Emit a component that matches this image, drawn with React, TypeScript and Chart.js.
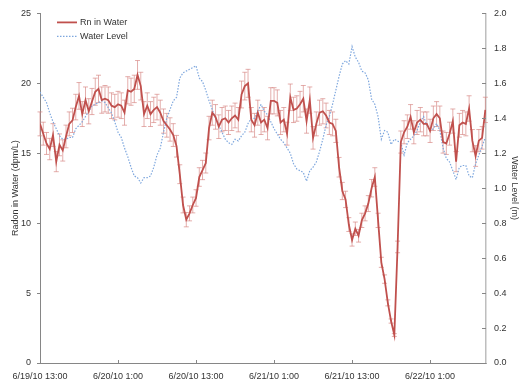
import { useEffect, useRef } from "react";
import { Chart, registerables } from "chart.js";

Chart.register(...registerables);

// ---- data ----
const X_TICK_HOURS = [0, 12, 24, 36, 48, 60];
const X_TICK_LABELS = [
  "6/19/10 13:00",
  "6/20/10 1:00",
  "6/20/10 13:00",
  "6/21/10 1:00",
  "6/21/10 13:00",
  "6/22/10 1:00",
];
const SAMPLE_STEP_HOURS = 0.5;
const X_MAX_HOURS = 68.6;

const RADON_LABEL = "Rn in Water";
const WATER_LABEL = "Water Level";

const RADON = [
  17.1, 16.4, 15.7, 15.3, 16.3, 14.4, 15.6, 15.2, 16.2, 17.1,
  17.35, 18.3, 19.1, 17.8, 18.8, 18.0, 18.7, 19.4, 19.6, 18.8,
  18.9, 18.8, 18.4, 18.3, 18.5, 18.4, 17.9, 19.5, 19.4, 19.6,
  20.6, 19.8, 17.8, 18.4, 17.8, 18.1, 18.3, 17.9, 17.3, 17.0,
  16.7, 16.3, 15.5, 13.5, 11.3, 10.25, 10.7, 11.3, 11.8, 13.3,
  13.8, 14.3, 16.8, 17.9, 17.6, 16.9, 17.4, 17.5, 17.2, 17.5,
  17.7, 17.4, 19.2, 19.8, 20.0, 17.4, 17.0, 17.9, 17.2, 17.4,
  16.8, 18.75, 18.75, 18.6, 17.2, 17.4, 16.4, 19.0, 18.1, 18.2,
  18.5, 18.9, 17.3, 18.8, 16.1, 17.1, 17.9, 18.0, 17.7, 17.2,
  17.1, 16.6, 14.0, 12.3, 11.7, 9.9, 8.8, 9.6, 9.1, 10.2,
  10.7, 11.4, 12.5, 13.3, 10.2, 7.2, 6.0, 4.3, 3.0, 2.0,
  8.3, 15.8, 16.5, 16.9, 17.6, 16.5, 17.2, 17.4, 17.1, 17.1,
  16.6, 17.5, 17.8, 17.5, 15.8, 15.7, 16.4, 17.3, 14.4, 17.0,
  17.2, 17.1, 18.2, 15.9, 14.8, 15.9, 16.1, 18.1,
];

const WATER_LEVEL = [
  1.55, 1.52, 1.49, 1.43, 1.38, 1.34, 1.30, 1.28, 1.28, 1.29,
  1.29, 1.34, 1.36, 1.38, 1.41, 1.44, 1.47, 1.48, 1.49, 1.50,
  1.49, 1.46, 1.43, 1.38, 1.32, 1.29, 1.23, 1.18, 1.12, 1.07,
  1.06, 1.03, 1.06, 1.06, 1.07, 1.12, 1.19, 1.23, 1.32, 1.40,
  1.45, 1.50, 1.52, 1.63, 1.66, 1.67, 1.68, 1.69, 1.70, 1.63,
  1.61, 1.56, 1.50, 1.45, 1.40, 1.36, 1.32, 1.28, 1.26, 1.25,
  1.28, 1.27, 1.30, 1.32, 1.37, 1.40, 1.40, 1.44, 1.48, 1.44,
  1.42, 1.38, 1.34, 1.31, 1.28, 1.26, 1.23, 1.20, 1.14, 1.11,
  1.10, 1.09, 1.04, 1.10, 1.12, 1.15, 1.21, 1.28, 1.36, 1.41,
  1.48, 1.56, 1.64, 1.71, 1.73, 1.71, 1.81, 1.75, 1.72, 1.67,
  1.66, 1.62, 1.51, 1.48, 1.41, 1.28, 1.33, 1.32, 1.25, 1.28,
  1.27, 1.26, 1.19, 1.26, 1.28, 1.30, 1.33, 1.38, 1.41, 1.36,
  1.33, 1.34, 1.37, 1.33, 1.23, 1.17, 1.15, 1.10, 1.05, 1.12,
  1.13, 1.13, 1.07, 1.06, 1.14, 1.19, 1.24, 1.29,
];

const RADON_ERROR_PCT = 5;

// ---- styles ----
const FONT_FAMILY = "'Liberation Sans', Arial, sans-serif";
const TEXT_COLOR = "#333333";
const AXIS_COLOR = "#868686";
const RED = "#C0504D";
const ERR_COLOR = "rgba(214, 130, 128, 0.65)";
const BLUE = "#7EA7DE";

const errorBarsPlugin = {
  id: "errorBars",
  beforeDatasetsDraw(chart: any) {
    const meta = chart.getDatasetMeta(0);
    const yScale = chart.scales.y;
    const ctx = chart.ctx;
    ctx.save();
    ctx.strokeStyle = ERR_COLOR;
    ctx.lineWidth = 1;
    meta.data.forEach((el: any, i: number) => {
      const v = RADON[i];
      const e = (v * RADON_ERROR_PCT) / 100;
      const top = yScale.getPixelForValue(v + e);
      const bot = yScale.getPixelForValue(v - e);
      const x = el.x;
      ctx.beginPath();
      ctx.moveTo(x, top);
      ctx.lineTo(x, bot);
      ctx.moveTo(x - 2.5, top);
      ctx.lineTo(x + 2.5, top);
      ctx.moveTo(x - 2.5, bot);
      ctx.lineTo(x + 2.5, bot);
      ctx.stroke();
    });
    ctx.restore();
  },
};

const innerTicksPlugin = {
  id: "innerTicks",
  afterDatasetsDraw(chart: any) {
    const { ctx, chartArea, scales } = chart;
    ctx.save();
    ctx.strokeStyle = AXIS_COLOR;
    ctx.lineWidth = 1;
    ctx.beginPath();
    scales.x.ticks.forEach((t: any) => {
      const px = Math.round(scales.x.getPixelForValue(t.value)) + 0.5;
      ctx.moveTo(px, chartArea.bottom);
      ctx.lineTo(px, chartArea.bottom - 3);
    });
    scales.y1.ticks.forEach((t: any) => {
      const py = Math.round(scales.y1.getPixelForValue(t.value)) + 0.5;
      ctx.moveTo(chartArea.right - 4, py);
      ctx.lineTo(chartArea.right, py);
    });
    ctx.stroke();
    ctx.restore();
  },
};

const legendPlugin = {
  id: "insideLegend",
  afterDraw(chart: any) {
    const ctx = chart.ctx;
    const ds = chart.data.datasets;
    const x0 = chart.chartArea.left + 17;
    const rows = [chart.chartArea.top + 9, chart.chartArea.top + 23];
    ctx.save();
    ds.forEach((d: any, i: number) => {
      const y = rows[i];
      ctx.beginPath();
      ctx.strokeStyle = d.borderColor;
      ctx.lineWidth = d.borderWidth;
      ctx.setLineDash(d.borderDash || []);
      ctx.moveTo(x0, y);
      ctx.lineTo(x0 + 20, y);
      ctx.stroke();
      ctx.setLineDash([]);
      ctx.fillStyle = TEXT_COLOR;
      ctx.font = `9px ${FONT_FAMILY}`;
      ctx.textBaseline = "middle";
      ctx.textAlign = "left";
      ctx.fillText(d.label, x0 + 23, y);
    });
    ctx.restore();
  },
};

export default function App() {
  const canvasRef = useRef<HTMLCanvasElement | null>(null);

  useEffect(() => {
    if (!canvasRef.current) return;
    const hours = RADON.map((_, i) => i * SAMPLE_STEP_HOURS);
    const tickFont = { family: FONT_FAMILY, size: 9 };
    const chart = new Chart(canvasRef.current, {
      type: "line",
      data: {
        datasets: [
          {
            label: RADON_LABEL,
            data: RADON.map((v, i) => ({ x: hours[i], y: v })),
            borderColor: RED,
            borderWidth: 1.8,
            pointRadius: 0,
            tension: 0,
            yAxisID: "y",
            order: 1,
          },
          {
            label: WATER_LABEL,
            data: WATER_LEVEL.map((v, i) => ({ x: i * SAMPLE_STEP_HOURS, y: v })),
            borderColor: BLUE,
            borderWidth: 1.2,
            borderDash: [1.5, 1.5],
            pointRadius: 0,
            tension: 0,
            yAxisID: "y1",
            order: 2,
          },
        ],
      },
      options: {
        animation: false,
        responsive: false,
        devicePixelRatio: 1,
        layout: { padding: { top: 10, left: 0, right: 0, bottom: 0 } },
        plugins: { legend: { display: false }, tooltip: { enabled: false } },
        scales: {
          x: {
            type: "linear",
            min: 0,
            max: X_MAX_HOURS,
            afterBuildTicks: (scale: any) => {
              scale.ticks = X_TICK_HOURS.map((v) => ({ value: v }));
            },
            afterFit: (scale: any) => {
              scale.height = 20;
            },
            grid: { display: false, drawTicks: false, tickLength: 0 },
            border: { display: true, color: AXIS_COLOR, width: 1 },
            ticks: {
              autoSkip: false,
              maxRotation: 0,
              padding: 8,
              color: TEXT_COLOR,
              font: tickFont,
              callback: (value: any) => {
                const idx = X_TICK_HOURS.indexOf(Number(value));
                return idx >= 0 ? X_TICK_LABELS[idx] : "";
              },
            },
          },
          y: {
            position: "left",
            min: 0,
            max: 25,
            afterFit: (scale: any) => {
              scale.width = 40;
            },
            grid: {
              display: true,
              drawOnChartArea: false,
              drawTicks: true,
              tickLength: 3,
              color: AXIS_COLOR,
            },
            border: { display: true, color: AXIS_COLOR, width: 1 },
            ticks: { stepSize: 5, padding: 6, color: TEXT_COLOR, font: tickFont },
            title: {
              display: true,
              text: "Radon in Water (dpm/L)",
              color: TEXT_COLOR,
              font: tickFont,
              padding: { top: 10, bottom: 0 },
            },
          },
          y1: {
            position: "right",
            min: 0,
            max: 2,
            afterFit: (scale: any) => {
              scale.width = 34;
            },
            grid: { display: false, drawTicks: false, tickLength: 0 },
            border: { display: true, color: "#BEBEBE", width: 1.5 },
            ticks: {
              stepSize: 0.2,
              padding: 8,
              color: TEXT_COLOR,
              font: tickFont,
              callback: (value: any) => Number(value).toFixed(1),
            },
            title: {
              display: true,
              text: "Water Level (m)",
              color: TEXT_COLOR,
              font: tickFont,
              padding: { top: 0, bottom: 0 },
            },
          },
        },
      },
      plugins: [errorBarsPlugin, innerTicksPlugin, legendPlugin],
    } as any);
    return () => chart.destroy();
  }, []);

  return (
    <div style={{ position: "fixed", left: 0, top: 0, width: 520, height: 383, background: "#fff" }}>
      <canvas ref={canvasRef} width={520} height={383} style={{ display: "block" }} />
    </div>
  );
}
